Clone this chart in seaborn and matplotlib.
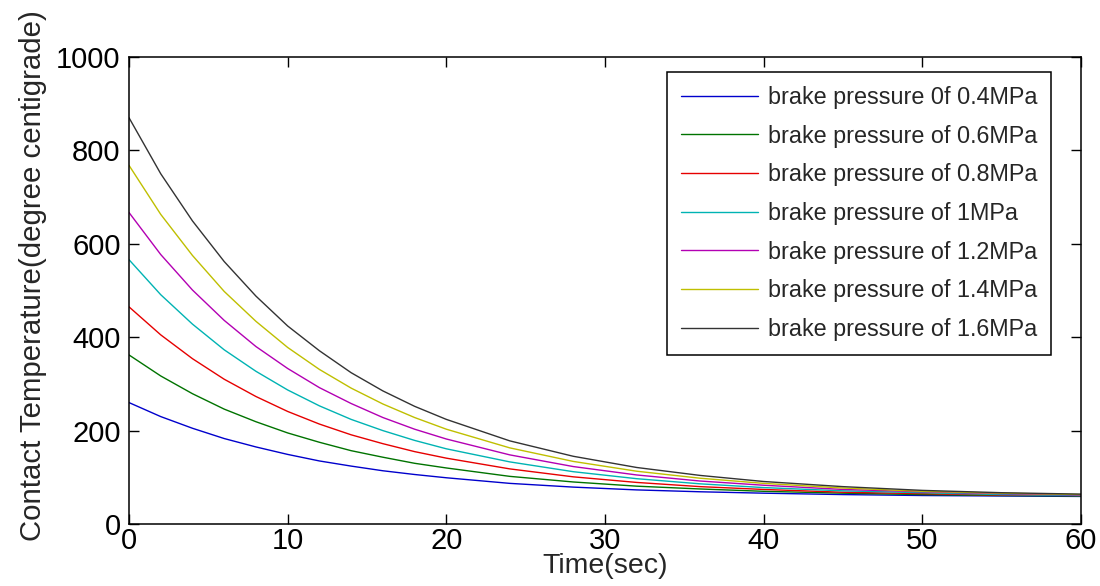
import matplotlib
matplotlib.use("Agg")
import matplotlib.pyplot as plt
import seaborn as sns
import pandas as pd

time_sec = [0, 2, 4, 6, 8, 10, 12, 14, 16, 18, 20, 24, 28, 32, 36, 40, 45, 50, 55, 60]

p04 = [260, 230, 205, 183, 165, 149, 135, 124, 114, 106, 99, 87, 79, 73, 69, 66, 63, 61, 60, 59]
p06 = [362, 317, 279, 246, 219, 195, 175, 157, 143, 130, 120, 102, 90, 81, 75, 70, 66, 63, 61, 60]
p08 = [465, 405, 354, 310, 273, 241, 214, 191, 172, 155, 141, 118, 101, 89, 80, 74, 68, 65, 62, 61]
p10 = [566, 491, 428, 373, 327, 287, 253, 224, 200, 179, 161, 133, 112, 97, 86, 78, 71, 67, 63, 61]
p12 = [667, 577, 501, 436, 380, 333, 292, 258, 228, 203, 182, 148, 123, 105, 92, 83, 74, 69, 65, 62]
p14 = [768, 663, 575, 498, 434, 378, 331, 291, 257, 228, 203, 163, 134, 113, 98, 87, 77, 70, 66, 63]
p16 = [870, 750, 649, 562, 488, 424, 371, 324, 285, 252, 224, 178, 145, 121, 104, 91, 80, 72, 67, 64]

labels = ["brake pressure 0f 0.4MPa", "brake pressure of 0.6MPa",
          "brake pressure of 0.8MPa", "brake pressure of 1MPa",
          "brake pressure of 1.2MPa", "brake pressure of 1.4MPa",
          "brake pressure of 1.6MPa"]
series = [p04, p06, p08, p10, p12, p14, p16]
colors = [(0, 0, 0.8), (0, 0.45, 0), (0.9, 0, 0), (0, 0.7, 0.7),
          (0.7, 0, 0.7), (0.75, 0.75, 0), (0.2, 0.2, 0.2)]

rows = []
for lab, vals in zip(labels, series):
    for t, v in zip(time_sec, vals):
        rows.append({"Time": t, "Temp": v, "Series": lab})
df = pd.DataFrame(rows)

sns.set_style("ticks")
plt.rcParams['font.family'] = ['Liberation Sans', 'DejaVu Sans']

fig = plt.figure(figsize=(11, 5.86), dpi=100)
ax_top, ax_bot = 57, 524
ax = fig.add_axes([129 / 1100, 1 - ax_bot / 586, (1081 - 129) / 1100, (ax_bot - ax_top) / 586])

sns.lineplot(data=df, x="Time", y="Temp", hue="Series", hue_order=labels,
             palette=dict(zip(labels, colors)), linewidth=1.0, ax=ax, sort=False)

ax.set_xlim(0, 60)
ax.set_ylim(0, 1000)
ax.set_xticks([0, 10, 20, 30, 40, 50, 60])
ax.set_yticks([0, 200, 400, 600, 800, 1000])
ax.tick_params(direction='in', length=7, width=1, top=True, right=True,
               labelsize=21, colors='black')
ax.tick_params(axis='y', pad=6)
ax.tick_params(axis='x', pad=2)
for s in ax.spines.values():
    s.set_visible(True)
    s.set_linewidth(1.1)
    s.set_color('black')

ax.set_xlabel("Time(sec)", fontsize=20.5, labelpad=-1)
ax.set_ylabel("Contact Temperature(degree centigrade)", fontsize=21.2)
ax.yaxis.set_label_coords(-0.086, 0.532)

leg = ax.legend(loc='upper right', bbox_to_anchor=(1 - 30 / 952, 1 - 15 / (ax_bot - ax_top)),
                borderaxespad=0, frameon=True, fancybox=False, edgecolor='black',
                fontsize=16.8, handlelength=3.3, handletextpad=0.39,
                labelspacing=0.67, borderpad=0.6, title=None)
leg.get_frame().set_linewidth(1.1)
leg.get_frame().set_alpha(1)

fig.savefig("out.png", dpi=100, facecolor='white')
